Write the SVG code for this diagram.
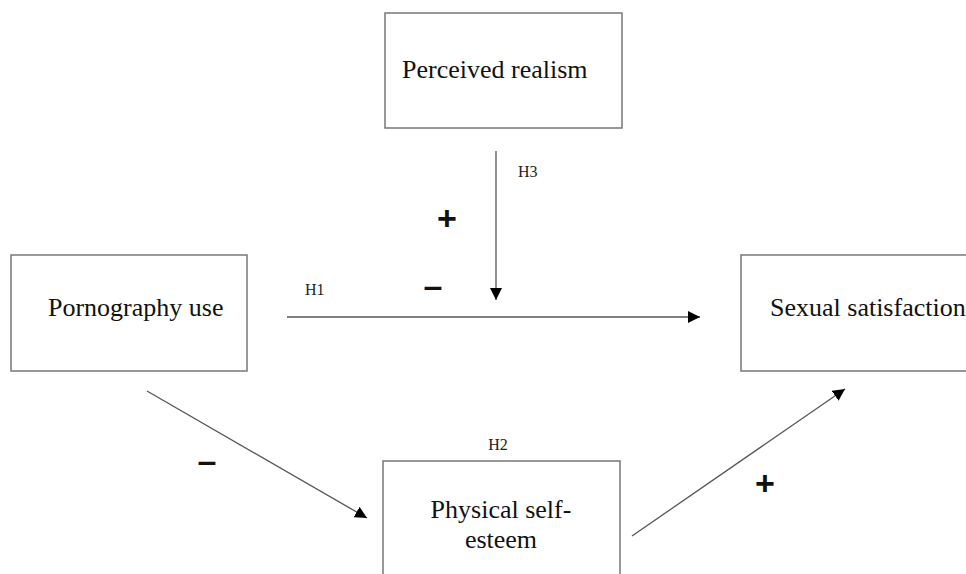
<svg xmlns="http://www.w3.org/2000/svg" width="966" height="574" viewBox="0 0 966 574">
<style>
.box{fill:#fff;stroke:#777;stroke-width:1.5}
.lbl{font-family:"Liberation Serif","Times New Roman",serif;font-size:26px;fill:#111}
.h{font-family:"Liberation Serif","Times New Roman",serif;font-size:16px;fill:#222}
.sign{font-family:"Liberation Sans",Arial,sans-serif;font-size:34px;fill:#111;font-weight:bold}
.edge{stroke:#555;stroke-width:1.3;fill:none;marker-end:url(#arr)}
</style>
<defs>
<marker id="arr" viewBox="0 0 10 10" refX="10" refY="5" markerUnits="userSpaceOnUse" markerWidth="12" markerHeight="12" orient="auto">
<path d="M0,0 L10,5 L0,10 z" fill="#000"/>
</marker>
</defs>
<rect width="966" height="574" fill="#fff"/>
<g id="edges">
<line class="edge" x1="287" y1="317" x2="700" y2="317"/>
<line class="edge" x1="496" y1="151" x2="496" y2="300"/>
<line class="edge" x1="147" y1="391" x2="367" y2="518"/>
<line class="edge" x1="632" y1="536" x2="845" y2="389"/>
</g>
<g id="labels">
<text class="h" x="305" y="295">H1</text>
<text class="h" x="518" y="177">H3</text>
<text class="h" x="498" y="450" text-anchor="middle">H2</text>
<text class="sign" x="447" y="230" text-anchor="middle">+</text>
<text class="sign" x="433" y="297" text-anchor="middle">–</text>
<text class="sign" x="207" y="472" text-anchor="middle">–</text>
<text class="sign" x="765" y="495" text-anchor="middle">+</text>
</g>
<g id="perceived-realism">
<rect class="box" x="385" y="13" width="237" height="115"/>
<text class="lbl" x="402" y="78">Perceived realism</text>
</g>
<g id="pornography-use">
<rect class="box" x="11" y="255" width="236" height="116"/>
<text class="lbl" x="48" y="316">Pornography use</text>
</g>
<g id="sexual-satisfaction">
<rect class="box" x="741" y="255" width="240" height="116"/>
<text class="lbl" x="770" y="316">Sexual satisfaction</text>
</g>
<g id="physical-self-esteem">
<rect class="box" x="383" y="461" width="237" height="130"/>
<text class="lbl" x="501" y="518" text-anchor="middle">Physical self-</text>
<text class="lbl" x="501" y="548" text-anchor="middle">esteem</text>
</g>
</svg>
